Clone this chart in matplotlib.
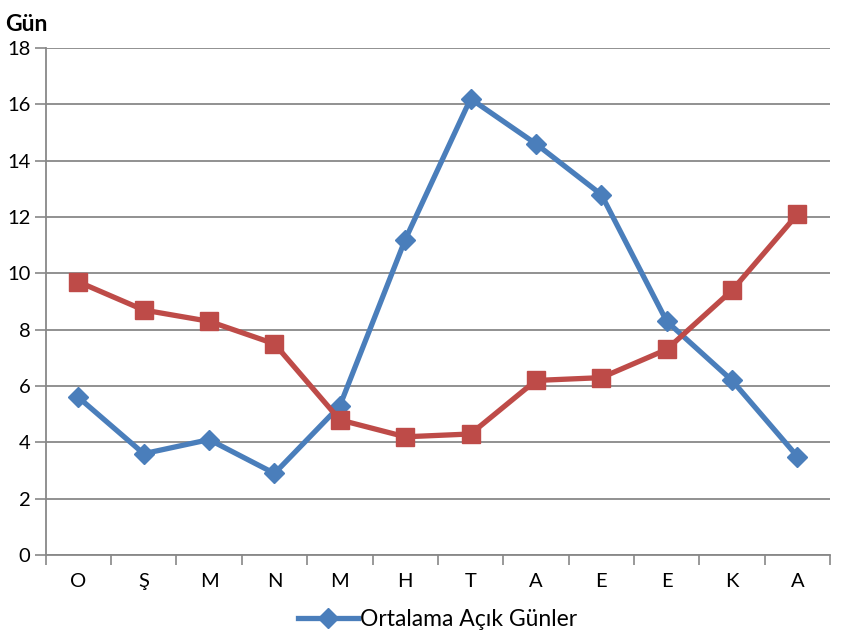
import numpy as np
import matplotlib
matplotlib.use("Agg")
import matplotlib.pyplot as plt

months = ["O", "Ş", "M", "N", "M", "H", "T", "A", "E", "E", "K", "A"]
acik_gunler = [5.6, 3.6, 4.1, 2.9, 5.3, 11.2, 16.2, 14.6, 12.8, 8.3, 6.2, 3.5]
kapali_gunler = [9.7, 8.7, 8.3, 7.5, 4.8, 4.2, 4.3, 6.2, 6.3, 7.3, 9.4, 12.1]

plt.rcParams['font.family'] = ['Lato', 'DejaVu Sans']

fig = plt.figure(figsize=(8.62, 6.41), dpi=100)
ax = fig.add_axes([0.053, 0.134, 0.910, 0.791])

xs = np.arange(len(months))
ax.plot(xs, acik_gunler, color="#4A7EBB", lw=3.8, marker="D", ms=10,
        label="Ortalama Açık Günler", zorder=3)
ax.plot(xs, kapali_gunler, color="#BE4B48", lw=3.8, marker="s", ms=13,
        zorder=3)

ax.set_xlim(-0.5, len(months) - 0.5)
ax.set_ylim(0, 18)
ax.set_yticks(range(0, 19, 2))
ax.set_xticks(xs)
ax.set_xticklabels(months)
ax.set_xticks(np.arange(-0.5, len(months)), minor=True)
ax.tick_params(axis="x", which="major", length=0, pad=13, labelsize=14.5)
ax.tick_params(axis="x", which="minor", length=7, color="#888888", width=1.2)
ax.tick_params(axis="y", length=8, color="#888888", width=1.2, labelsize=14.5, pad=3)

ax.grid(axis="y", color="#888888", lw=1.3)
ax.set_axisbelow(True)
for s in ["top", "right"]:
    ax.spines[s].set_visible(False)
for s in ["left", "bottom"]:
    ax.spines[s].set_color("#888888")
    ax.spines[s].set_linewidth(1.3)

fig.text(0.006, 0.978, "Gün", fontsize=16.5, fontweight="bold", va="top", ha="left")

ax.legend(loc="upper center", bbox_to_anchor=(0.5, -0.065), frameon=False,
          fontsize=16.5, handlelength=2.6, handletextpad=0.1)

fig.savefig("out.png", dpi=100)
